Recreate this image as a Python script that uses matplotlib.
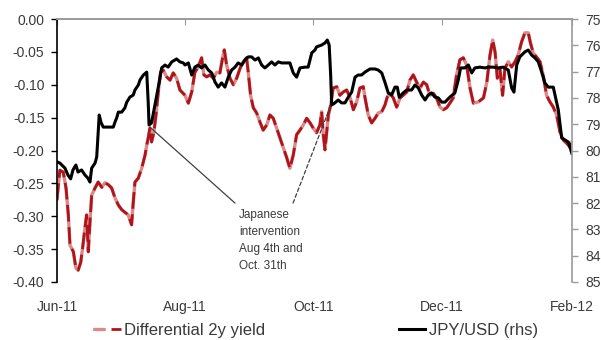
import matplotlib
matplotlib.use("Agg")
import matplotlib.pyplot as plt
import pandas as pd
from matplotlib.ticker import FormatStrFormatter
from matplotlib.legend_handler import HandlerTuple

plt.rcParams['font.family'] = ['Liberation Sans', 'DejaVu Sans']
plt.rcParams['axes.unicode_minus'] = False

# ---------------- data ----------------
start_date = "2011-06-20"
tick_dates = ["2011-06-20", "2011-08-20", "2011-10-20", "2011-12-20", "2012-02-20"]
tick_labels = ["Jun-11", "Aug-11", "Oct-11", "Dec-11", "Feb-12"]

# JPY/USD (rhs, inverted) - days since start_date
jpy_days = [0, 1.4, 3.8, 5.2, 6.5, 7.6, 9.0, 10.0, 11.7, 13.3,
            14.7, 15.7, 16.5, 18.1, 18.9, 20.1, 20.9, 22.0, 26.8, 27.6,
            28.4, 29.2, 30.8, 32.3, 33.2, 34.7, 36.3, 37.1, 38.7, 39.5,
            41.1, 42.7, 43.4, 43.8, 45.0, 46.6, 48.2, 49.8, 51.4, 52.9,
            54.6, 56.9, 58.5, 60.1, 60.9, 62.5, 64.1, 65.6, 67.2, 68.8,
            70.4, 72.0, 73.6, 75.2, 76.7, 78.3, 79.9, 81.5, 83.1, 84.7,
            86.2, 87.9, 89.4, 91.0, 92.6, 94.2, 95.8, 97.4, 98.9, 100.5,
            102.1, 103.7, 105.3, 106.9, 109.3, 110.8, 112.4, 114.0, 115.6, 118.0,
            119.5, 121.2, 122.7, 123.5, 125.9, 127.5, 128.6, 129.5, 130.2, 130.7,
            132.2, 133.8, 135.4, 137.0, 138.6, 140.2, 141.8, 143.3, 144.9, 146.5,
            148.9, 151.3, 152.8, 154.5, 156.0, 157.6, 159.2, 160.8, 161.9, 162.8,
            164.7, 166.4, 168.7, 170.3, 171.9, 173.5, 175.1, 176.6, 178.2, 179.8,
            181.4, 183.0, 184.6, 186.9, 189.3, 190.9, 192.0, 194.1, 195.7, 197.3,
            198.8, 201.2, 203.6, 205.2, 207.5, 209.9, 212.3, 214.7, 216.3, 217.4,
            218.7, 220.2, 222.6, 224.2, 225.8, 227.4, 229.0, 230.6, 232.1, 233.7,
            236.1, 237.7, 238.5, 240.1, 241.7, 243.3, 244.9]
jpy_usd = [80.43, 80.48, 80.67, 80.93, 81.08, 80.74, 80.55, 80.82, 80.74, 80.93,
           81.05, 81.20, 80.67, 80.48, 80.25, 78.65, 78.92, 79.11, 79.11, 78.92,
           78.76, 78.54, 78.54, 78.38, 78.16, 77.97, 77.89, 77.70, 77.51, 77.32,
           77.13, 77.02, 78.16, 79.03, 78.95, 78.27, 77.59, 76.86, 76.75, 76.83,
           76.63, 76.52, 76.63, 76.67, 76.75, 76.67, 77.13, 76.83, 76.75, 76.86,
           76.75, 76.94, 77.05, 77.40, 77.59, 77.43, 77.59, 77.21, 76.94, 76.83,
           76.67, 76.75, 76.56, 76.44, 76.44, 76.56, 76.48, 76.75, 76.86, 76.75,
           76.63, 76.75, 76.63, 76.67, 76.67, 76.67, 77.05, 77.21, 76.86, 76.83,
           76.83, 76.29, 76.18, 76.06, 75.99, 75.91, 75.80, 75.99, 77.13, 78.27,
           78.19, 78.08, 78.19, 78.19, 77.97, 77.78, 77.21, 77.13, 77.13, 77.02,
           76.90, 76.90, 76.94, 77.05, 77.40, 77.81, 77.89, 77.59, 77.59, 77.97,
           77.81, 77.70, 77.70, 77.51, 77.62, 77.89, 78.08, 77.89, 77.81, 77.97,
           78.00, 78.16, 78.16, 77.97, 77.81, 77.32, 76.86, 76.86, 76.75, 77.05,
           76.86, 76.83, 76.86, 76.83, 76.83, 76.86, 76.83, 76.94, 77.62, 77.78,
           76.75, 76.44, 76.25, 76.18, 76.37, 76.48, 76.63, 77.02, 77.43, 77.59,
           77.59, 78.16, 78.46, 79.52, 79.60, 79.68, 80.10]

# Differential 2y yield (lhs) - days since start_date
diff_days = [0, 0.8, 1.4, 3.0, 4.3, 5.4, 6.2, 7.8, 9.0, 10.1,
             11.3, 12.2, 13.3, 14.1, 14.9, 15.7, 16.5, 18.1, 19.6, 21.3,
             22.8, 24.4, 26.0, 27.6, 29.2, 30.8, 32.3, 33.9, 35.5, 36.3,
             37.1, 38.7, 40.3, 41.9, 42.7, 43.4, 44.2, 45.0, 46.1, 47.1,
             48.2, 49.3, 50.6, 52.2, 53.8, 55.3, 56.9, 58.5, 60.9, 62.5,
             64.1, 65.6, 67.2, 68.8, 69.9, 71.2, 72.8, 74.4, 76.0, 77.5,
             78.8, 79.6, 80.7, 82.3, 83.9, 85.5, 87.1, 88.6, 90.2, 91.0,
             92.1, 93.4, 95.0, 96.6, 98.1, 99.8, 101.3, 102.9, 104.5, 106.1,
             107.7, 109.3, 110.8, 112.4, 114.0, 115.6, 117.2, 118.8, 120.4, 121.9,
             123.5, 125.1, 125.9, 126.7, 127.5, 128.3, 129.1, 130.2, 131.4, 133.1,
             134.6, 136.2, 137.8, 139.4, 141.0, 142.6, 144.1, 145.7, 146.5, 148.1,
             149.7, 151.3, 152.8, 154.5, 156.0, 157.1, 158.4, 160.0, 161.6, 163.2,
             164.7, 166.4, 167.9, 169.5, 171.1, 172.7, 174.3, 175.9, 177.4, 179.0,
             180.6, 182.2, 183.8, 185.4, 186.9, 188.5, 190.1, 191.7, 193.3, 194.9,
             196.5, 198.1, 200.5, 202.9, 204.5, 206.0, 207.3, 208.4, 209.5, 210.7,
             212.0, 213.1, 214.7, 216.3, 217.9, 219.4, 221.0, 222.6, 224.2, 225.3,
             226.6, 228.2, 229.8, 231.3, 232.9, 234.5, 236.1, 237.7, 239.3, 240.9,
             242.5, 244.1, 245]
diff_2y = [-0.275, -0.248, -0.230, -0.233, -0.257, -0.298, -0.344, -0.354, -0.379, -0.382,
           -0.370, -0.348, -0.318, -0.298, -0.354, -0.309, -0.268, -0.257, -0.248, -0.256,
           -0.249, -0.252, -0.257, -0.272, -0.283, -0.290, -0.294, -0.298, -0.313, -0.278,
           -0.248, -0.242, -0.227, -0.207, -0.192, -0.181, -0.166, -0.187, -0.172, -0.146,
           -0.111, -0.081, -0.078, -0.088, -0.093, -0.082, -0.090, -0.108, -0.116, -0.128,
           -0.111, -0.081, -0.073, -0.059, -0.085, -0.088, -0.085, -0.090, -0.081, -0.082,
           -0.059, -0.047, -0.070, -0.090, -0.100, -0.090, -0.075, -0.065, -0.059, -0.081,
           -0.116, -0.135, -0.143, -0.157, -0.169, -0.161, -0.146, -0.151, -0.166, -0.181,
           -0.196, -0.211, -0.227, -0.207, -0.176, -0.169, -0.161, -0.151, -0.158, -0.166,
           -0.173, -0.161, -0.141, -0.176, -0.199, -0.172, -0.146, -0.131, -0.105, -0.103,
           -0.116, -0.111, -0.108, -0.119, -0.138, -0.126, -0.105, -0.103, -0.119, -0.146,
           -0.158, -0.151, -0.143, -0.141, -0.131, -0.119, -0.113, -0.120, -0.134, -0.120,
           -0.116, -0.111, -0.093, -0.085, -0.096, -0.105, -0.096, -0.100, -0.116, -0.113,
           -0.120, -0.134, -0.138, -0.135, -0.128, -0.120, -0.085, -0.062, -0.059, -0.070,
           -0.105, -0.128, -0.126, -0.120, -0.096, -0.055, -0.032, -0.050, -0.090, -0.075,
           -0.116, -0.075, -0.065, -0.073, -0.065, -0.055, -0.035, -0.021, -0.021, -0.037,
           -0.052, -0.058, -0.065, -0.085, -0.116, -0.126, -0.134, -0.146, -0.172, -0.184,
           -0.189, -0.195, -0.187]

left_ticks = [0.00, -0.05, -0.10, -0.15, -0.20, -0.25, -0.30, -0.35, -0.40]
right_ticks = [75, 76, 77, 78, 79, 80, 81, 82, 83, 84, 85]

annotation_text = "Japanese\nintervention\nAug 4th and\nOct. 31th"

# ---------------- plot ----------------
start = pd.Timestamp(start_date)
jpy_dates = start + pd.to_timedelta(jpy_days, unit="D")
diff_dates = start + pd.to_timedelta(diff_days, unit="D")
xt = pd.to_datetime(tick_dates)

fig = plt.figure(figsize=(6.01, 3.40), dpi=100)
ax = fig.add_axes([0.0948, 0.1706, 0.8569, 0.7735])
ax2 = ax.twinx()

red_under, = ax.plot(diff_dates, diff_2y, color="#D98A8A", lw=2.4, solid_capstyle="round")
red_dash, = ax.plot(diff_dates, diff_2y, color="#B0141B", lw=2.0, dashes=(6, 2))
blk, = ax2.plot(jpy_dates, jpy_usd, color="black", lw=2.2)

ax.set_xlim(xt[0], xt[-1])
ax.set_ylim(-0.40, 0.0)
ax.set_yticks(left_ticks)
ax.yaxis.set_major_formatter(FormatStrFormatter("%.2f"))
ax.set_xticks(xt)
ax.set_xticklabels(tick_labels)

ax2.set_ylim(85, 75)
ax2.set_yticks(right_ticks)

grey = "#9A9A9A"
txtc = "#3A3A3A"
for a in (ax, ax2):
    a.spines["bottom"].set_visible(False)
    a.spines["top"].set_color(grey)
    a.spines["top"].set_linewidth(1.2)
ax.spines["left"].set_color("black")
ax.spines["left"].set_linewidth(1.2)
ax.spines["right"].set_visible(False)
ax2.spines["left"].set_visible(False)
ax2.spines["right"].set_color(grey)
ax2.spines["right"].set_linewidth(1.2)

ax.tick_params(axis="x", which="both", bottom=False, top=True, labelbottom=True,
               labeltop=False, direction="in", length=4, color=grey,
               labelcolor=txtc, labelsize=10, pad=13)
ax.tick_params(axis="y", direction="out", length=4, width=1, color="black",
               labelcolor=txtc, labelsize=10, pad=5)
ax2.tick_params(axis="y", direction="out", length=4, width=1, color=grey,
                labelcolor=txtc, labelsize=10, pad=5.5)

# annotation
d_aug = start + pd.Timedelta(days=44.2)
d_txt = start + pd.Timedelta(days=84.7)
d_txt2 = start + pd.Timedelta(days=112.3)
d_oct = start + pd.Timedelta(days=130.3)
ax2.annotate("", xy=(d_aug, 79.11), xytext=(d_txt, 82.0),
             arrowprops=dict(arrowstyle="-", color="#404040", lw=0.9,
                             shrinkA=0, shrinkB=0))
ax2.annotate("", xy=(d_oct, 78.27), xytext=(d_txt2, 82.0),
             arrowprops=dict(arrowstyle="-", color="#404040", lw=0.9,
                             linestyle=(0, (3, 2)), shrinkA=0, shrinkB=0))
ax2.text(start + pd.Timedelta(days=86.6), 82.22, annotation_text,
         ha="left", va="top", fontsize=8.5, color=txtc, linespacing=1.55)

fig.legend(handles=[(red_under, red_dash), blk],
           labels=["Differential 2y yield", "JPY/USD (rhs)"],
           handler_map={tuple: HandlerTuple(ndivide=None)},
           loc="center", bbox_to_anchor=(0.526, 0.028), ncol=2, frameon=False,
           fontsize=12, handlelength=1.6, handletextpad=0.2, columnspacing=8,
           labelcolor=txtc)

fig.savefig("out.png", dpi=100)
